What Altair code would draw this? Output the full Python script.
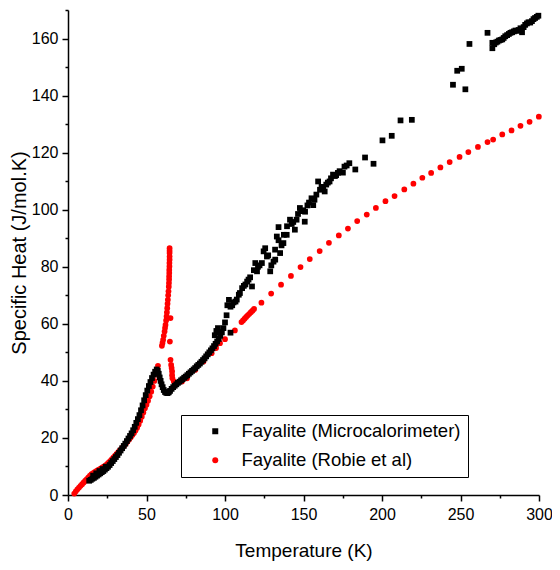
import altair as alt
import pandas as pd

series_names = ["Fayalite (Microcalorimeter)", "Fayalite (Robie et al)"]
series_colors = ["#000000", "#ff0000"]
series_shapes = ["square", "circle"]

x_ticks = [0, 25, 50, 75, 100, 125, 150, 175, 200, 225, 250, 275, 300]
y_ticks = [0, 10, 20, 30, 40, 50, 60, 70, 80, 90, 100, 110, 120, 130, 140, 150, 160, 170]

# Microcalorimeter data (black squares)
micro_T = [13.5, 14.5, 15.5, 16.5, 17.5, 18.5, 19.5, 20.5, 21.5, 22.5, 23.5, 24.5, 25.5,
           16.0, 18.0, 20.0, 22.0, 24.0,
           26.5, 27.5, 28.5, 29.5, 30.5, 31.5, 32.5, 33.5, 34.5, 35.5, 36.5, 37.5, 38.5,
           39.5, 40.5, 41.5, 42.5, 43.5, 44.5, 45.5, 46.5, 47.5, 48.5, 49.5, 50.5, 51.5,
           52.5, 53.5, 54.5, 55.5, 56.5, 57.2, 57.8, 58.4, 59.0, 59.6, 60.3, 61.0, 61.8,
           62.6, 63.4, 64.2, 65.0, 66.0, 67.0, 68.0, 69.0, 70.0, 71.0, 72.0, 73.0, 74.0,
           75.0, 76.0, 77.0, 78.0, 79.0, 80.0, 81.0, 82.0, 83.0, 84.0, 85.0, 86.0, 87.0,
           88.0, 89.0, 90.0, 91.0, 92.0, 93.0, 94.0, 95.0, 96.0, 97.0, 98.0,
           93.5, 94.5, 95.5, 96.0, 103.5,
           99.0, 100.0, 101.0, 101.5, 102.5, 103.5, 104.6, 105.5, 106.7, 107.5, 108.8,
           109.5, 110.9, 112.0, 113.0, 114.1, 115.0, 116.0, 117.2, 118.4, 119.3, 120.4,
           121.0, 122.0, 123.5, 124.6, 125.6, 126.7, 127.5, 128.8, 129.5, 130.9, 131.9,
           132.0, 133.0, 134.1, 134.1, 135.1, 136.0, 137.2, 137.5, 139.3, 139.5, 141.4,
           142.5, 143.5, 144.5, 145.6, 146.5, 147.7, 148.5, 149.8, 150.8, 151.0, 152.5,
           153.5, 155.1, 156.2, 157.0, 158.2, 159.3, 160.5, 161.5, 162.5, 163.5, 164.5,
           165.5, 166.6, 167.5, 168.8, 170.0, 170.8, 171.9, 173.0, 175.1, 176.1, 177.5,
           179.2, 183.0, 189.2, 194.6, 200.3, 206.2, 211.8, 219.0, 245.2, 247.9, 250.8,
           253.1, 255.7, 267.2, 270.3, 270.3, 271.5, 272.5, 273.5, 274.5, 275.5, 276.6,
           277.5, 278.5, 279.7, 280.8, 281.8, 282.9, 284.0, 285.0, 286.0, 287.0, 288.2,
           289.2, 290.2, 291.2, 292.3, 293.3, 294.4, 295.5, 296.5, 297.5, 298.6, 299.6]
micro_C = [5.0, 5.3, 5.7, 6.0, 6.4, 6.8, 7.2, 7.6, 8.0, 8.4, 8.9, 9.4, 9.9,
           6.8, 7.6, 8.4, 9.1, 9.9,
           10.5, 11.2, 11.9, 12.6, 13.3, 14.0, 14.8, 15.6, 16.4, 17.2, 18.0, 18.9, 19.8,
           20.7, 21.6, 22.7, 23.9, 25.3, 26.6, 28.0, 29.7, 31.4, 33.2, 35.0, 36.6, 38.2,
           39.6, 41.0, 42.2, 43.2, 44.0, 43.5, 42.5, 41.2, 40.0, 38.8, 37.8, 36.8, 36.1,
           35.8, 35.7, 36.0, 36.5, 37.2, 37.8, 38.3, 38.8, 39.3, 39.7, 40.2, 40.6, 41.1,
           41.5, 42.0, 42.5, 43.0, 43.5, 44.0, 44.5, 45.1, 45.6, 46.1, 46.7, 47.3, 47.9,
           48.6, 49.3, 50.0, 50.7, 51.4, 52.2, 53.0, 53.8, 54.7, 55.8, 57.0,
           56.0, 57.5, 58.5, 57.0, 56.9,
           58.5, 60.5, 63.0, 66.5, 68.4, 66.0, 66.5, 67.5, 67.8, 68.5, 70.2,
           70.8, 72.5, 73.3, 73.8, 74.8, 75.5, 76.3, 73.1, 78.8, 81.3, 78.4,
           80.0, 80.5, 81.3, 85.4, 86.5, 83.6, 84.0, 78.4, 80.5, 81.8, 86.0,
           82.5, 90.6, 89.3, 93.9, 84.8, 87.5, 88.3, 91.2, 91.2, 94.2, 96.5,
           95.0, 95.7, 93.0, 96.5, 98.5, 100.6, 99.5, 99.8, 95.8, 99.3, 101.5,
           102.5, 104.0, 101.6, 103.5, 105.3, 109.9, 107.0, 108.0, 107.6, 106.4, 108.8,
           109.5, 109.9, 111.0, 112.3, 111.8, 112.1, 112.9, 113.5, 113.0, 115.1, 115.5,
           116.3, 114.1, 118.3, 116.1, 124.3, 125.9, 131.3, 131.5, 143.8, 148.7, 149.4,
           142.2, 158.1, 162.0, 156.6, 158.5, 158.0, 158.6, 158.9, 159.3, 159.5, 159.7,
           160.2, 160.8, 161.2, 161.6, 162.0, 162.2, 162.5, 162.8, 162.7, 163.0, 163.6,
           162.2, 164.0, 164.8, 165.3, 165.7, 165.6, 166.1, 166.8, 167.2, 167.6, 168.0]

# Robie et al. data (red circles)
robie_T = [4.0, 5.0, 6.0, 7.0, 8.0, 9.0, 10.0, 11.0, 12.0, 13.0, 14.0, 15.0, 16.0, 17.0,
           18.0, 19.0, 20.0, 21.0, 22.0, 23.0, 24.0, 25.0, 26.0, 27.0, 28.0, 29.0, 30.0,
           31.0, 32.0, 33.0, 34.0, 35.0, 36.0, 37.0, 38.0, 39.0, 40.0, 41.0, 42.0, 43.0,
           44.0, 45.0, 46.0, 47.0, 48.0, 49.0, 50.0, 51.0, 52.0, 53.0, 54.0, 55.0, 56.0,
           57.3,
           59.8, 60.2, 60.6, 61.0, 61.5, 61.8, 62.1, 62.5, 62.8, 63.0, 63.2, 63.4, 63.6,
           63.8, 64.0, 64.2, 64.3, 64.4, 64.4, 64.5, 64.5, 64.6, 64.6, 64.7, 64.7, 64.7,
           64.7, 64.7,
           64.9, 65.3,
           65.3, 65.7, 66.0, 66.3, 66.3, 66.5, 67.4, 72.6, 75.8, 81.1, 86.3, 91.5, 94.3,
           96.8, 100.0, 106.3, 110.5, 111.5, 112.5, 113.5, 114.5, 115.5, 116.5, 117.5,
           118.5, 123.2, 129.4, 135.7, 142.0, 148.1, 154.0, 160.3, 166.2, 172.5, 178.3,
           184.2, 190.3, 196.1, 202.2, 208.0, 214.2, 220.0, 225.7, 231.3, 237.2, 243.1,
           249.4, 255.0, 261.1, 267.2, 270.8, 276.6, 282.5, 288.2, 294.0, 299.9]
robie_C = [0.5, 1.3, 2.0, 2.6, 3.2, 3.8, 4.4, 5.0, 5.6, 6.2, 6.8, 7.3, 7.7, 8.0,
           8.4, 8.7, 9.0, 9.3, 9.7, 10.0, 10.4, 10.9, 11.4, 12.0, 12.6, 13.2, 13.8,
           14.4, 15.0, 15.6, 16.2, 16.8, 17.4, 18.1, 18.8, 19.5, 20.2, 21.0, 21.7, 22.6,
           23.6, 24.7, 26.0, 27.4, 28.9, 30.4, 31.6, 33.0, 34.6, 36.2, 38.0, 40.0, 42.2,
           45.3,
           52.3, 53.3, 54.4, 55.8, 57.3, 58.5, 59.6, 61.2, 62.6, 64.0, 65.5, 67.0, 68.4,
           70.0, 71.4, 73.0, 74.3, 75.5, 76.6, 77.8, 78.9, 80.1, 81.3, 82.5, 83.6, 84.8,
           85.6, 86.5,
           53.8, 62.0,
           47.4, 45.6, 44.5, 43.3, 42.0, 40.9, 39.8, 39.8, 40.9, 43.9, 46.8, 49.7, 51.5,
           53.2, 54.6, 57.7, 60.6, 61.2, 61.8, 62.4, 63.0, 63.5, 64.1, 64.6,
           65.2, 67.4, 70.6, 73.7, 76.8, 79.9, 82.7, 85.5, 88.4, 91.0, 93.4,
           96.0, 98.3, 100.6, 103.0, 104.8, 107.1, 109.1, 111.2, 112.9, 114.8, 116.7,
           118.5, 120.2, 122.0, 123.7, 124.6, 126.4, 127.8, 129.4, 130.8, 132.6]

df = pd.concat([
    pd.DataFrame({"T": robie_T, "C": robie_C, "series": series_names[1]}),
    pd.DataFrame({"T": micro_T, "C": micro_C, "series": series_names[0]}),
], ignore_index=True)

FONT = "Liberation Sans"

x_axis = alt.Axis(
    values=x_ticks,
    labelExpr="datum.value % 50 === 0 ? datum.label : ''",
    tickSize={"condition": {"test": "datum.value % 50 === 0", "value": 6}, "value": 3},
    labelFlush=False, labelOverlap=False, grid=False,
    labelFontSize=16, labelPadding=5, titleFontSize=19, titlePadding=19,
)
y_axis = alt.Axis(
    values=y_ticks,
    labelExpr="datum.value % 20 === 0 ? datum.label : ''",
    tickSize={"condition": {"test": "datum.value % 20 === 0", "value": 6}, "value": 3},
    labelOverlap=False, grid=False,
    labelFontSize=16, labelPadding=4, titleFontSize=20, titlePadding=2,
)

legend = alt.Legend(
    title=None, orient="none", legendX=113, legendY=405,
    strokeColor="black", fillColor="white", padding=7,
    symbolOffset=18, labelOffset=17, rowPadding=10, labelLimit=400,
    labelFontSize=18.5, labelFont=FONT, symbolSize=36, symbolStrokeWidth=0,
)

chart = alt.Chart(df).mark_point(filled=True, opacity=1, size=33, strokeWidth=0).encode(
    x=alt.X("T:Q", title="Temperature (K)",
            scale=alt.Scale(domain=[0, 300], nice=False, zero=False), axis=x_axis),
    y=alt.Y("C:Q", title="Specific Heat (J/mol.K)",
            scale=alt.Scale(domain=[0, 170], nice=False), axis=y_axis),
    color=alt.Color("series:N", scale=alt.Scale(domain=series_names, range=series_colors),
                    legend=legend),
    shape=alt.Shape("series:N", scale=alt.Scale(domain=series_names, range=series_shapes),
                    legend=legend),
).properties(
    width=471, height=485,
    autosize=alt.AutoSizeParams(type="none"),
    padding={"left": 60, "top": 2, "right": 13, "bottom": 67},
).configure_view(stroke=None).configure_axis(
    labelFont=FONT, titleFont=FONT, titleFontWeight="normal",
    labelColor="black", titleColor="black", domainColor="black", tickColor="black",
    domainWidth=1.5, tickWidth=1.5,
)

chart.save("out.html", embed_options={"renderer": "svg", "actions": False})
